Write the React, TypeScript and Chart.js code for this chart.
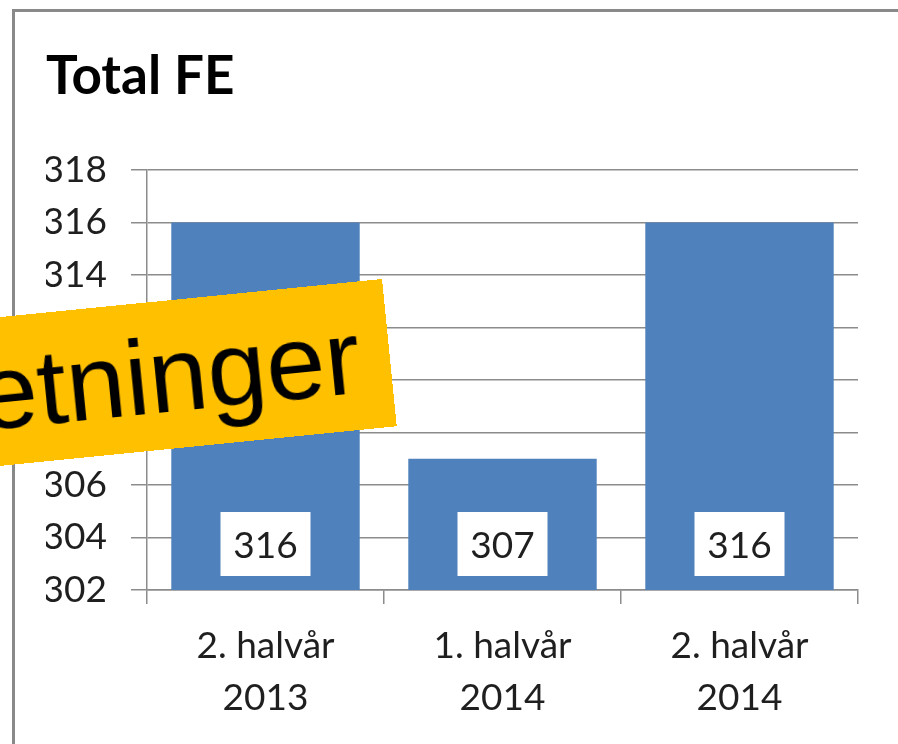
import React, { useEffect, useRef } from "react";
import { Chart, registerables } from "chart.js";

Chart.register(...registerables);

const categories: string[][] = [
  ["2. halvår", "2013"],
  ["1. halvår", "2014"],
  ["2. halvår", "2014"],
];
const totalFE: number[] = [316, 307, 316];
const yMin = 302;
const yMax = 318;
const yStep = 2;
const titleText = "Total FE";
const bannerText = "etninger";

const GRID = "#8c8c8c";
const TEXT = "#1f1f1f";
const BAR = "#4F81BD";
const FONT = "Lato, 'Open Sans', sans-serif";

const dataLabelPlugin = {
  id: "boxedLabels",
  afterDraw(chart: any) {
    const ctx = chart.ctx;
    const xScale = chart.scales.x;
    const yScale = chart.scales.y;
    const values = chart.data.datasets[0].data as number[];
    ctx.save();
    for (let i = 0; i < values.length; i++) {
      const cx = xScale.getPixelForValue(i);
      const base = yScale.getPixelForValue(yMin);
      const w = 90;
      const h = 64;
      const bottom = base - 14;
      ctx.fillStyle = "#ffffff";
      ctx.fillRect(cx - w / 2, bottom - h, w, h);
      ctx.fillStyle = TEXT;
      ctx.font = "37px Lato, sans-serif";
      ctx.textAlign = "center";
      ctx.textBaseline = "middle";
      ctx.fillText(String(values[i]), cx, bottom - h / 2 + 2);
    }
    ctx.restore();
  },
};

export default function App() {
  const canvasRef = useRef<HTMLCanvasElement | null>(null);

  useEffect(() => {
    document.documentElement.style.overflow = "hidden";
    document.body.style.overflow = "hidden";
    if (!canvasRef.current) return;
    const chart = new Chart(canvasRef.current, {
      type: "bar",
      data: {
        labels: categories,
        datasets: [
          {
            data: totalFE,
            backgroundColor: BAR,
            borderWidth: 0,
            categoryPercentage: 1,
            barPercentage: 0.795,
          },
        ],
      },
      options: {
        responsive: false,
        animation: false,
        layout: { padding: { left: 46, right: 40, top: 0, bottom: 0 } },
        plugins: {
          legend: { display: false },
          tooltip: { enabled: false },
          title: {
            display: true,
            text: titleText,
            align: "start",
            color: "#000000",
            font: { family: FONT, size: 53, weight: "bold", lineHeight: 1.2 },
            padding: { top: 45, bottom: 61.4 },
          },
        },
        scales: {
          x: {
            type: "category",
            offset: true,
            afterFit: (scale: any) => {
              scale.height = 154;
            },
            grid: {
              display: true,
              drawOnChartArea: false,
              drawTicks: true,
              tickLength: 14,
              offset: true,
              color: GRID,
              lineWidth: 1.5,
            },
            border: { display: true, color: GRID, width: 1.5 },
            ticks: {
              color: TEXT,
              font: { family: FONT, size: 37, lineHeight: 1.38 },
              padding: 17,
              maxRotation: 0,
            },
          },
          y: {
            min: yMin,
            max: yMax,
            afterFit: (scale: any) => {
              scale.width = 101;
            },
            grid: {
              color: GRID,
              lineWidth: 1.5,
              tickLength: 16,
            },
            border: { display: true, color: GRID, width: 1.5 },
            ticks: {
              stepSize: yStep,
              color: TEXT,
              font: { family: FONT, size: 37 },
              padding: 24,
            },
          },
        },
      },
      plugins: [dataLabelPlugin],
    });
    return () => chart.destroy();
  }, []);

  return (
    <div
      style={{
        position: "fixed",
        left: 0,
        top: 0,
        width: 1100,
        height: 900,
        overflow: "hidden",
        background: "#ffffff",
      }}
    >
      <div
        style={{
          position: "absolute",
          left: 12,
          top: 9,
          width: 1080,
          height: 880,
          borderTop: "3px solid #898989",
          borderLeft: "3px solid #898989",
          boxSizing: "border-box",
        }}
      />
      <canvas
        ref={canvasRef}
        width={898}
        height={744}
        style={{ position: "absolute", left: 0, top: 0, width: 898, height: 744 }}
      />
      <div
        style={{
          position: "absolute",
          left: 382 - 700,
          top: 279,
          width: 700,
          height: 148,
          background: "#FFC000",
          transformOrigin: "right top",
          transform: "rotate(-5.7deg)",
          fontFamily: "'Liberation Sans', Arial, sans-serif",
          fontSize: 106,
          lineHeight: "148px",
          color: "#000000",
          textAlign: "right",
          paddingRight: 30,
          boxSizing: "border-box",
          whiteSpace: "nowrap",
        }}
      >
        {bannerText}
      </div>
    </div>
  );
}
